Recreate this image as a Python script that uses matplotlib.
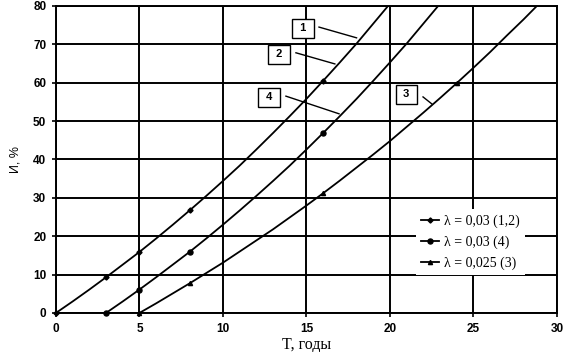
import matplotlib
matplotlib.use("Agg")
import matplotlib.pyplot as plt

# Curve 1,2 (lambda = 0.03, start T=0)
t12 = list(range(0, 21))
i12 = [0, 3.0, 6.1, 9.3, 12.6, 15.9, 19.4, 23.0, 26.7, 30.5, 34.4,
       38.4, 42.6, 46.9, 51.3, 55.8, 60.5, 65.3, 70.2, 75.4, 80.6]
m12_t = [0, 3, 5, 8, 16]
m12_i = [0, 9.3, 15.9, 26.7, 60.5]

# Curve 4 (lambda = 0.03, start T=3)
t4 = list(range(3, 24))
i4 = [0, 3.0, 6.1, 9.3, 12.6, 15.9, 19.4, 23.0, 26.7, 30.5, 34.4,
      38.4, 42.6, 46.9, 51.3, 55.8, 60.5, 65.3, 70.2, 75.4, 80.6]
m4_t = [3, 5, 8, 16]
m4_i = [0, 6.1, 15.9, 46.9]

# Curve 3 (lambda = 0.025, start T=5)
t3 = list(range(5, 30))
i3 = [0, 2.5, 5.1, 7.7, 10.4, 13.1, 16.0, 18.9, 21.8, 24.9, 28.0, 31.2, 34.5,
      37.9, 41.3, 44.8, 48.5, 52.2, 56.0, 59.9, 63.9, 68.0, 72.3, 76.5, 80.9]
m3_t = [5, 8, 16, 24]
m3_i = [0, 7.7, 31.2, 59.9]

legend_labels = ["λ = 0,03 (1,2)", "λ = 0,03 (4)", "λ = 0,025 (3)"]

curve_labels = ["1", "2", "4", "3"]
label_pos = [(14.8, 74.2), (13.35, 67.4), (12.75, 56.2), (21.0, 57.0)]
leaders = [((15.75, 74.5), (18.0, 71.7)),
           ((14.37, 67.8), (16.7, 64.9)),
           ((13.77, 56.5), (16.95, 51.9)),
           ((21.98, 56.3), (22.5, 54.5))]

xticks = [0, 5, 10, 15, 20, 25, 30]
yticks = [0, 10, 20, 30, 40, 50, 60, 70, 80]

fig = plt.figure(figsize=(5.88, 3.52), dpi=100)
ax = fig.add_axes([0.0952, 0.111, 0.852, 0.872])

styles = [("D", 2.6), ("o", 3.6), ("^", 3.0)]
series = [(t12, i12, m12_t, m12_i), (t4, i4, m4_t, m4_i), (t3, i3, m3_t, m3_i)]
for (t, v, mt, mv), (mk, ms), lab in zip(series, styles, legend_labels):
    ax.plot(t, v, color="black", lw=1.3, zorder=3)
    ax.plot(mt, mv, ls="none", marker=mk, ms=ms, color="black", zorder=4, clip_on=False)
    ax.plot([], [], color="black", lw=1.3, marker=mk, ms=ms, label=lab)

for txt, (x, y) in zip(curve_labels, label_pos):
    ax.text(x, y, " " + txt + " ", ha="center", va="center", fontsize=8, fontweight="bold",
            family="Liberation Sans", zorder=6,
            bbox=dict(boxstyle="square,pad=0.4", fc="white", ec="black", lw=1.0))
for (p0, p1) in leaders:
    ax.plot([p0[0], p1[0]], [p0[1], p1[1]], color="black", lw=1.0, zorder=5)

ax.set_xlim(0, 30)
ax.set_ylim(0, 80)
ax.set_xticks(xticks)
ax.set_yticks(yticks)
ax.grid(True, color="black", lw=1.4)
ax.set_axisbelow(True)
for s in ax.spines.values():
    s.set_linewidth(1.4)
ax.tick_params(direction="out", length=3, width=1.2, labelsize=8.5, pad=4)
for lbl in ax.get_xticklabels() + ax.get_yticklabels():
    lbl.set_family("Liberation Sans")
    lbl.set_fontweight("bold")

ax.set_xlabel("T, годы", family="Liberation Serif", fontsize=11.5, labelpad=2)
ax.set_ylabel("И, %", family="Liberation Sans", fontsize=9, labelpad=8)

leg = ax.legend(loc="center", bbox_to_anchor=(0.702, 0.199, 0.196, 0.227),
                bbox_transform=fig.transFigure, frameon=True, fancybox=False,
                handlelength=1.3, handletextpad=0.3, labelspacing=0.55,
                prop={"family": "Liberation Serif", "size": 10})
leg.get_frame().set_edgecolor("none")
leg.get_frame().set_facecolor("white")
leg.get_frame().set_alpha(1.0)

fig.savefig("out.png", dpi=100)
